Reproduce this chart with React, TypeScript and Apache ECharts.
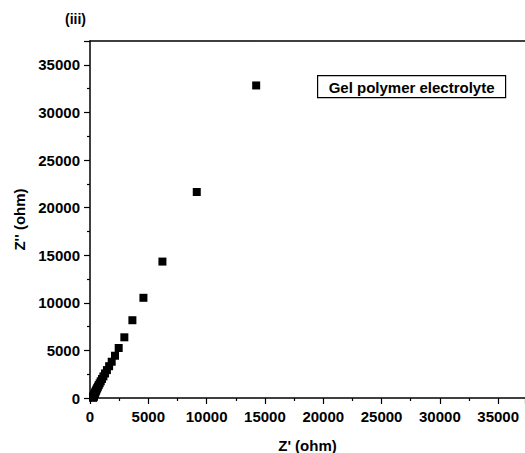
import React, { useEffect, useRef } from "react";
import * as echarts from "echarts";

const zReal: number[] = [
  14250, 9155, 6210, 4580, 3635, 2945, 2460, 2145, 1860, 1640, 1450, 1290,
  1150, 1030, 920, 830, 750, 680, 620, 570, 525, 485, 450, 420, 395, 370,
  350, 335, 320, 305, 295, 285, 275, 268,
];
const zImag: number[] = [
  32830, 21640, 14330, 10525, 8170, 6375, 5250, 4440, 3810, 3340, 2930, 2580,
  2270, 2000, 1760, 1550, 1360, 1190, 1040, 910, 790, 690, 600, 520, 450, 380,
  320, 265, 215, 170, 130, 95, 60, 30,
];
const xTitle = "Z' (ohm)";
const yTitle = "Z'' (ohm)";
const legendText = "Gel polymer electrolyte";
const panelLabel = "(iii)";

const FONT = "'Liberation Sans', Arial, sans-serif";

export default function App() {
  const ref = useRef<HTMLDivElement>(null);
  useEffect(() => {
    if (!ref.current) return;
    const chart = echarts.init(ref.current, null, { renderer: "svg" });
    const data = zReal.map((x, i) => [x, zImag[i]]);
    const axisCommon = {
      axisLine: { show: true, lineStyle: { color: "#000", width: 1.5 } },
      axisTick: { show: true, inside: false, length: 6, lineStyle: { color: "#000", width: 1.2 } },
      minorTick: { show: true, splitNumber: 2, length: 3, lineStyle: { color: "#000", width: 1.2 } },
      splitLine: { show: false },
      axisLabel: {
        color: "#000",
        fontFamily: FONT,
        fontWeight: "bold" as const,
        fontSize: 15,
        showMaxLabel: false,
        formatter: (v: number) => String(v),
      },
    };
    chart.setOption({
      animation: false,
      backgroundColor: "#fff",
      grid: {
        left: 90,
        top: 41,
        right: 0,
        bottom: 55,
        containLabel: false,
        outerBoundsMode: "none",
      },
      xAxis: [
        {
          type: "value",
          min: 0,
          max: 37300,
          interval: 5000,
          ...axisCommon,
          axisLabel: { ...axisCommon.axisLabel, margin: 11 },
          name: xTitle,
          nameLocation: "middle",
          nameGap: 40,
          nameTextStyle: { color: "#000", fontFamily: FONT, fontWeight: "bold", fontSize: 15 },
        },
        {
          type: "value",
          position: "top",
          min: 0,
          max: 37300,
          axisLine: { show: true, lineStyle: { color: "#000", width: 1.5 } },
          axisTick: { show: false },
          axisLabel: { show: false },
          splitLine: { show: false },
        },
      ],
      yAxis: {
        type: "value",
        min: 0,
        max: 37500,
        interval: 5000,
        ...axisCommon,
        axisLabel: { ...axisCommon.axisLabel, margin: 10 },
        name: yTitle,
        nameLocation: "middle",
        nameGap: 63,
        nameRotate: 90,
        nameTextStyle: { color: "#000", fontFamily: FONT, fontWeight: "bold", fontSize: 15 },
      },
      series: [
        {
          type: "scatter",
          xAxisIndex: 0,
          symbol: "rect",
          symbolSize: 8,
          itemStyle: { color: "#000", opacity: 1 },
          data,
        },
      ],
      graphic: [
        {
          type: "text",
          left: 65,
          top: 12,
          style: { text: panelLabel, fill: "#000", font: `bold 14px ${FONT}` },
        },
        {
          type: "group",
          left: 317,
          top: 75,
          children: [
            {
              type: "rect",
              shape: { x: 0, y: 0, width: 188, height: 22 },
              style: { fill: "#fff", stroke: "#000", lineWidth: 1.2 },
            },
            {
              type: "text",
              x: 94,
              y: 11.5,
              style: {
                text: legendText,
                fill: "#000",
                font: `bold 15px ${FONT}`,
                align: "center",
                verticalAlign: "middle",
              },
            },
          ],
        },
      ],
    });
    return () => chart.dispose();
  }, []);
  return (
    <div
      ref={ref}
      style={{ position: "fixed", left: 0, top: 0, width: 525, height: 453 }}
    />
  );
}
